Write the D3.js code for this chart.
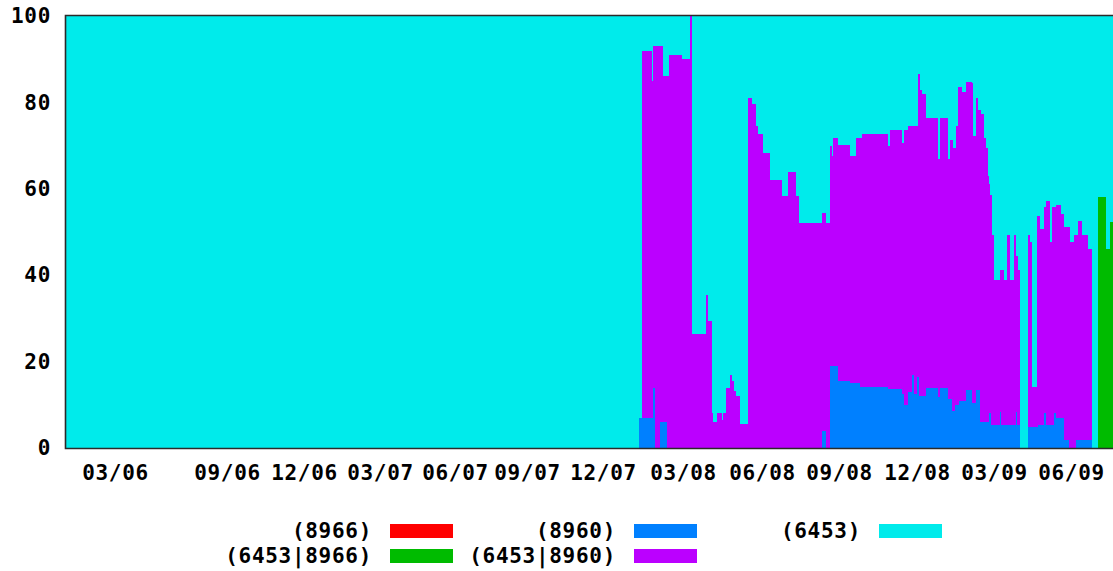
<!DOCTYPE html>
<html>
<head>
<meta charset="utf-8">
<script src="https://cdn.jsdelivr.net/npm/d3@7"></script>
<style>
  html, body { margin: 0; padding: 0; background: #ffffff; }
  svg { display: block; }
</style>
</head>
<body>
<svg id="chart" width="1113" height="571"></svg>
<script>
// ---- DATA (sample index where each step begins; values in percent) ----
const segStart = [
  0,573,576,586,587,589,594,597,601,603,
  616,624,626,640,642,646,647,651,656,657,
  660,664,666,668,670,674,682,686,690,692,
  697,704,716,722,730,733,756,760,764,766,
  767,772,784,790,794,796,822,824,836,838,
  842,846,848,851,852,853,854,856,860,872,
  874,882,884,886,887,889,890,892,893,896,
  900,906,907,910,912,914,915,918,920,922,
  923,924,925,926,928,934,935,938,941,944,
  948,950,951,952,954,962,964,966,971,972,
  974,978,980,984,986,988,990,995,998,1003,
  1004,1008,1010,1012,1016,1022,1026,1032,1040,1044
];
const sampleCount = 1047;

const v8966 = new Array(120).fill(0);

const v6453_8966 = [
  0,0,0,0,0,0,0,0,0,0,
  0,0,0,0,0,0,0,0,0,0,
  0,0,0,0,0,0,0,0,0,0,
  0,0,0,0,0,0,0,0,0,0,
  0,0,0,0,0,0,0,0,0,0,
  0,0,0,0,0,0,0,0,0,0,
  0,0,0,0,0,0,0,0,0,0,
  0,0,0,0,0,0,0,0,0,0,
  0,0,0,0,0,0,0,0,0,0,
  0,0,0,0,0,0,0,0,0,0,
  0,0,0,0,0,0,0,0,0,0,
  0,0,0,0,0,0,0,58.1,46,52.4
];

const v8960 = [
  0,7,7,7,14,0,6,6,0,0,
  0,0,0,0,0,0,0,0,0,0,
  0,0,0,0,0,0,0,0,0,0,
  0,0,0,0,0,0,4,0,19,19,
  19,15.6,15,15,14.2,14.2,13.7,13.7,12.5,10,
  13,16.8,12.5,16.4,16.4,12,12,12,14,11.7,
  14,11.3,11.3,8.6,8.6,10,10,10,10.8,10.8,
  13.4,10.5,10.5,13.4,13.4,6,6,6,6,6,
  8,8,5.3,5.3,5.3,8.4,5.3,5.3,5.3,5.3,
  5.3,8.4,5.3,5.3,0,4.8,4.8,4.8,4.8,5.3,
  5.3,8,5.3,5.3,5.3,8,7,7,1.9,0,
  0,0,1.9,1.9,1.9,1.9,0,0,0,0
];

const v6453_8960 = [
  0,0,85,78,79,93,87,80,86,91,
  90,100,26.5,35.5,29.5,8,6,8,6.5,8,
  14,17,15.5,13.3,12,5.5,81,79.6,74.5,72.7,
  68.4,62,58.3,64,58.3,52,50.4,52,51,48.5,
  52.8,54.6,52.5,56.8,57.6,58.5,56.1,59.9,58.1,63.7,
  61.5,57.7,62,58.1,70.2,74.6,70.8,70,62.4,55.3,
  62.4,55.7,60.1,62.8,60.8,59.4,64.5,73.5,72.7,71.7,
  71.4,73.9,61.7,67.6,64.8,72.2,71.2,65.8,63.4,57,
  53,50.6,53.3,44,33.7,32.8,35.9,33.7,44,33.7,
  44,36.1,39.2,35.9,0,44.5,42.9,9.4,49,48.5,
  45.4,47.8,51.8,42.4,50.5,47.8,49.3,47.2,49.2,51.1,
  47.6,49.3,47.4,50.6,47.4,44.1,0,0,0,0
];

const v6453 = [
  100,93,8,15,7,7,7,14,14,9,
  10,0,73.5,64.5,70.5,92,94,92,93.5,92,
  86,83,84.5,86.7,88,94.5,19,20.4,25.5,27.3,
  31.6,38,41.7,36,41.7,48,45.6,48,30,32.5,
  28.2,29.8,32.5,28.2,28.2,27.3,30.2,26.4,29.4,26.3,
  25.5,25.5,25.5,25.5,13.4,13.4,17.2,18,23.6,33,
  23.6,33,28.6,28.6,30.6,30.6,25.5,16.5,16.5,17.5,
  15.2,15.6,27.8,19,21.8,21.8,22.8,28.2,30.6,37,
  39,41.4,41.4,50.7,61,58.8,58.8,61,50.7,61,
  50.7,55.5,55.5,58.8,100,50.7,52.3,85.8,46.2,46.2,
  49.3,44.2,42.9,52.3,44.2,44.2,43.7,45.8,48.9,48.9,
  52.4,50.7,50.7,47.5,50.7,54,100,41.9,54,47.6
];

const yTicks = [0, 20, 40, 60, 80, 100];
const xTickPos = [49, 161, 238, 314, 389, 461, 537, 617, 696, 773, 851, 928, 1005];
const xTickLabels = ["03/06","09/06","12/06","03/07","06/07","09/07","12/07","03/08","06/08","09/08","12/08","03/09","06/09"];

const seriesKeys = ["8966", "6453|8966", "8960", "6453|8960", "6453"];
const seriesColors = ["#ff0000", "#00bb00", "#0080ff", "#bb00ff", "#00ebeb"];
const legendOrder = ["8966", "8960", "6453", "6453|8966", "6453|8960"];

(function () {
  const rows = segStart.map((s, i) => ({
    start: s,
    end: i + 1 < segStart.length ? segStart[i + 1] : sampleCount,
    "8966": v8966[i],
    "6453|8966": v6453_8966[i],
    "8960": v8960[i],
    "6453|8960": v6453_8960[i],
    "6453": v6453[i]
  }));

  const svg = d3.select("#chart");
  const mLeft = 66, mRight = 1113, mTop = 16, mBottom = 448;

  const x = d3.scaleLinear().domain([0, sampleCount]).range([mLeft, mRight]);
  const y = d3.scaleLinear().domain([0, 100]).range([mBottom, mTop]);
  const color = d3.scaleOrdinal().domain(seriesKeys).range(seriesColors);

  const stacked = d3.stack().keys(seriesKeys)(rows);

  const g = svg.append("g").attr("shape-rendering", "crispEdges");
  g.selectAll("g.series")
    .data(stacked)
    .join("g")
    .attr("class", "series")
    .attr("fill", d => color(d.key))
    .selectAll("rect")
    .data(d => d.filter(p => p[1] - p[0] > 0))
    .join("rect")
    .attr("x", p => x(p.data.start))
    .attr("width", p => x(p.data.end) - x(p.data.start))
    .attr("y", p => y(p[1]))
    .attr("height", p => y(p[0]) - y(p[1]));

  svg.append("path")
    .attr("d", `M${mRight + 5},${mTop - 0.5} H${mLeft - 0.5} V${mBottom + 0.5} H${mRight + 5}`)
    .attr("fill", "none")
    .attr("stroke", "#2a2a2a")
    .attr("stroke-width", 1.6);

  const fontFamily = "'DejaVu Sans Mono', monospace";
  const fontSize = "21px";
  const spacing = "0.7px";

  const yAxis = svg.append("g")
    .attr("transform", `translate(${mLeft},0)`)
    .call(d3.axisLeft(y).tickValues(yTicks).tickSize(0).tickPadding(15).tickFormat(d3.format("d")));
  yAxis.select(".domain").remove();
  yAxis.selectAll("text")
    .attr("font-family", fontFamily)
    .attr("font-weight", "bold")
    .attr("font-size", fontSize)
    .attr("letter-spacing", spacing)
    .attr("fill", "#000");

  const xAxis = svg.append("g")
    .attr("transform", `translate(0,${mBottom})`)
    .call(d3.axisBottom(x).tickValues(xTickPos).tickSize(0).tickPadding(17)
      .tickFormat((d, i) => xTickLabels[i]));
  xAxis.select(".domain").remove();
  xAxis.selectAll("text")
    .attr("font-family", fontFamily)
    .attr("font-weight", "bold")
    .attr("font-size", fontSize)
    .attr("letter-spacing", spacing)
    .attr("fill", "#000");

  const legCols = [372, 616, 861];
  const legRows = [531, 556];
  const legend = svg.append("g");
  legendOrder.forEach((k, i) => {
    const col = i % 3, row = Math.floor(i / 3);
    const cx = legCols[col], cy = legRows[row];
    legend.append("text")
      .attr("x", cx)
      .attr("y", cy)
      .attr("dy", "0.35em")
      .attr("text-anchor", "end")
      .attr("font-family", fontFamily)
      .attr("font-weight", "bold")
      .attr("font-size", fontSize)
      .attr("letter-spacing", spacing)
      .attr("fill", "#000")
      .text("(" + k + ")");
    legend.append("rect")
      .attr("x", cx + 18)
      .attr("y", cy - 7)
      .attr("width", 63)
      .attr("height", 14)
      .attr("fill", color(k));
  });
})();
</script>
</body>
</html>
